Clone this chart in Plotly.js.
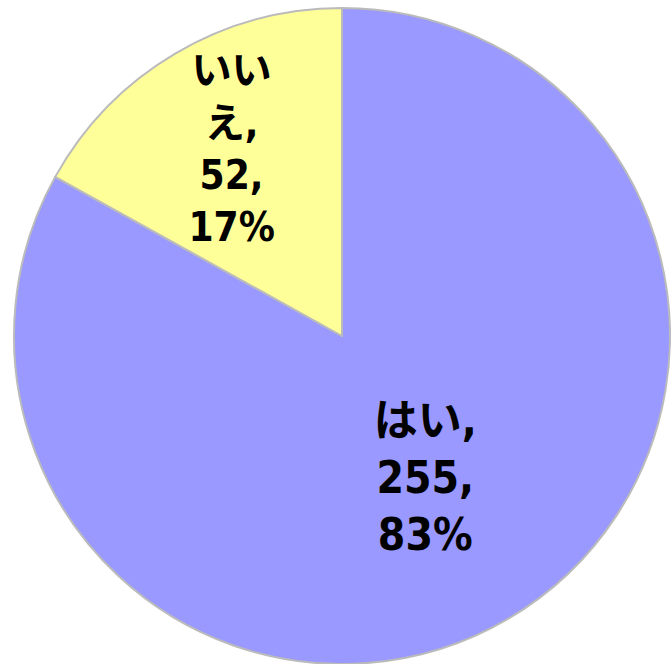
<!DOCTYPE html>
<html>
<head>
<meta charset="utf-8">
<script src="https://cdn.plot.ly/plotly-3.0.1.min.js"></script>
<style>html,body{margin:0;padding:0;background:#fff;}</style>
</head>
<body>
<div id="chart" style="width:671px;height:664px;"></div>
<script>
const labels = ['はい', 'いいえ'];
const values = [255, 52];
const colors = ['#9999FF', '#FFFF99'];
const templates = ['%{label},<br>%{value},<br>%{percent:.0%}', 'いい<br>え,<br>%{value},<br>%{percent:.0%}'];

Plotly.newPlot('chart', [{
  type: 'pie',
  labels: labels,
  values: values,
  sort: false,
  direction: 'clockwise',
  rotation: 0,
  marker: {colors: colors, line: {color: '#BBBBBB', width: 2}},
  texttemplate: templates,
  textposition: 'inside',
  insidetextorientation: 'horizontal',
  textfont: {family: 'DejaVu Sans Condensed, Noto Sans CJK JP, sans-serif', size: 44, color: '#000', weight: 'bold'},
  domain: {x: [14/671, 670/671], y: [0, 656/664]},
  hoverinfo: 'label+value+percent'
}], {
  width: 671, height: 664,
  margin: {l: 0, r: 0, t: 0, b: 0},
  showlegend: false,
  paper_bgcolor: '#fff'
}, {displayModeBar: false, staticPlot: true});
</script>
</body>
</html>
